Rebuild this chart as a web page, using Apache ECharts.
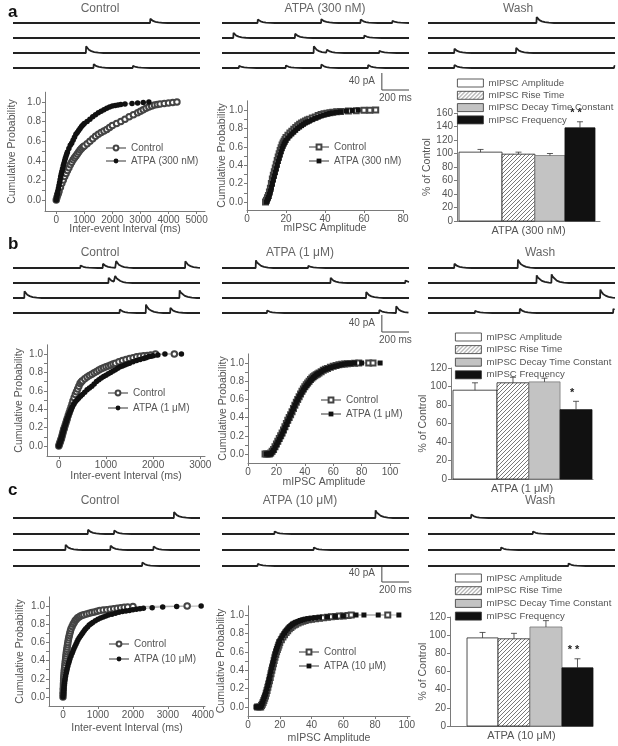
<!DOCTYPE html>
<html><head><meta charset="utf-8">
<script src="https://cdn.jsdelivr.net/npm/echarts@6/dist/echarts.min.js"></script>
<style>
html,body{margin:0;padding:0;background:#fff;}
#wrap{position:relative;width:618px;height:746px;overflow:hidden;}
.layer{position:absolute;left:0;top:0;width:618px;height:746px;}
</style></head><body><div id="wrap"></div>
<script>
// ================= DATA =================
const panelLetters = ['a', 'b', 'c'];
const titlesA = ['Control', 'ATPA (300 nM)', 'Wash'];
const titlesB = ['Control', 'ATPA (1 μM)', 'Wash'];
const titlesC = ['Control', 'ATPA (10 μM)', 'Wash'];
const sweepMs = 1378;
const scaleBarMs = 200;
const scaleBarPA = 40;

// trace events: [time ms, amplitude pA]; columns Control / ATPA / Wash, 4 sweeps each
const traceEventsA = [
  [[[1010, 10]], [], [[537, 16]], [[593, 9], [882, 5]]],
  [[[262, 8], [730, 9], [1020, 8], [1254, 5]], [[83, 12], [537, 10], [1047, 6]], [[675, 16], [772, 7], [1158, 5]], [[124, 5], [469, 6], [730, 8], [1075, 7]]],
  [[[799, 14]], [], [[193, 10], [648, 12]], [[193, 7], [1371, 5]]]
];
const traceEventsB = [
  [[[496, 6], [661, 10], [758, 16], [1268, 16]], [[703, 12], [751, 14]], [[83, 16], [1226, 18]], [[785, 8], [978, 20], [1158, 12]]],
  [[[248, 18], [634, 5]], [[799, 12], [1350, 6]], [[1061, 14]], [[331, 6], [1158, 7], [1282, 16]]],
  [[[193, 10], [661, 20]], [[799, 18], [909, 20]], [[1268, 20]], [[345, 5], [675, 10], [1364, 10]]]
];
const traceEventsC = [
  [[[1185, 14]], [[551, 10], [744, 8]], [[386, 12], [717, 10], [1034, 8]], [[951, 8]]],
  [[[1130, 18]], [[386, 6]], [[675, 6]], [[262, 5]]],
  [[[317, 8]], [[772, 6]], [[537, 6]], [[1034, 6]]]
];

// cumulative distributions [value, probability]
const ieiCtrlA = [[0,0],[25,0.025],[50,0.05],[75,0.07],[100,0.09],[150,0.13],[200,0.17],[250,0.205],[300,0.24],[350,0.27],[400,0.3],[450,0.33],[500,0.36],[550,0.385],[600,0.41],[650,0.43],[700,0.45],[750,0.47],[800,0.49],[850,0.51],[900,0.525],[950,0.54],[1000,0.55],[1100,0.575],[1200,0.6],[1300,0.625],[1400,0.65],[1500,0.67],[1600,0.69],[1700,0.705],[1800,0.72],[1900,0.74],[2000,0.76],[2150,0.78],[2300,0.8],[2450,0.825],[2600,0.85],[2750,0.87],[2900,0.89],[3000,0.905],[3100,0.92],[3200,0.935],[3300,0.95],[3400,0.96],[3500,0.97],[3600,0.975],[3700,0.98],[3850,0.985],[4000,0.99],[4150,0.995],[4300,1.0]];
const ieiAtpaA = [[0,0],[20,0.03],[40,0.06],[60,0.09],[80,0.12],[100,0.15],[120,0.18],[140,0.21],[160,0.24],[180,0.265],[200,0.29],[225,0.32],[250,0.35],[275,0.375],[300,0.4],[325,0.425],[350,0.45],[375,0.47],[400,0.49],[450,0.525],[500,0.56],[550,0.58],[600,0.61],[650,0.64],[700,0.67],[750,0.69],[800,0.71],[850,0.73],[900,0.75],[950,0.765],[1000,0.78],[1100,0.8],[1200,0.825],[1300,0.85],[1400,0.87],[1500,0.89],[1600,0.905],[1700,0.92],[1800,0.935],[1900,0.95],[2000,0.96],[2100,0.965],[2200,0.97],[2300,0.975],[2450,0.98],[2700,0.985],[2900,0.99],[3100,0.995],[3300,1.0]];
const ampCtrlA = [[9.5,0],[10,0.02],[10.5,0.045],[11,0.07],[11.5,0.11],[12,0.15],[12.5,0.2],[13,0.25],[13.5,0.29],[14,0.33],[14.5,0.37],[15,0.41],[15.5,0.45],[16,0.49],[16.5,0.525],[17,0.56],[17.5,0.59],[18,0.62],[18.5,0.64],[19,0.66],[19.5,0.68],[20,0.7],[21,0.725],[22,0.75],[23,0.77],[24,0.79],[25,0.81],[26,0.83],[27,0.845],[28,0.86],[29,0.87],[30,0.88],[31,0.89],[32,0.9],[33.5,0.913],[35,0.925],[36.5,0.94],[38,0.95],[39.5,0.958],[41,0.965],[42.5,0.97],[44,0.975],[46,0.98],[48,0.985],[52,0.99],[56,0.993],[60,0.996],[63,0.998],[66,1.0]];
const ampAtpaA = [[10,0],[10.5,0.025],[11,0.05],[11.5,0.085],[12,0.12],[12.5,0.16],[13,0.2],[13.5,0.24],[14,0.28],[14.5,0.32],[15,0.36],[15.5,0.4],[16,0.44],[16.5,0.475],[17,0.51],[17.5,0.545],[18,0.58],[18.5,0.605],[19,0.63],[19.5,0.65],[20,0.67],[21,0.695],[22,0.72],[23,0.74],[24,0.76],[25,0.78],[26,0.8],[27,0.815],[28,0.83],[29,0.845],[30,0.86],[31,0.87],[32,0.88],[33.5,0.895],[35,0.91],[36.5,0.922],[38,0.935],[39.5,0.945],[41,0.955],[42.5,0.963],[44,0.97],[46,0.975],[48,0.98],[51,0.99],[54,0.995],[57,1.0]];

const ieiCtrlB = [[0,0],[10,0.015],[20,0.03],[30,0.045],[40,0.06],[50,0.075],[60,0.09],[70,0.11],[80,0.13],[90,0.15],[100,0.17],[110,0.185],[120,0.2],[135,0.225],[150,0.25],[165,0.275],[180,0.3],[200,0.33],[220,0.36],[240,0.39],[260,0.42],[280,0.455],[300,0.49],[325,0.525],[350,0.56],[375,0.59],[400,0.62],[425,0.65],[450,0.68],[475,0.695],[500,0.71],[550,0.73],[600,0.75],[650,0.765],[700,0.78],[750,0.795],[800,0.81],[850,0.825],[900,0.84],[950,0.85],[1000,0.86],[1050,0.87],[1100,0.88],[1150,0.89],[1200,0.9],[1275,0.915],[1350,0.93],[1425,0.94],[1500,0.95],[1575,0.96],[1650,0.97],[1725,0.975],[1800,0.98],[1875,0.985],[1950,0.99],[2050,1.0],[2450,1.0]];
const ieiAtpaB = [[0,0],[10,0.015],[20,0.03],[30,0.045],[40,0.06],[50,0.075],[60,0.09],[70,0.11],[80,0.13],[90,0.15],[100,0.17],[110,0.185],[120,0.2],[135,0.225],[150,0.25],[165,0.275],[180,0.3],[200,0.325],[220,0.35],[240,0.375],[260,0.4],[280,0.42],[300,0.44],[325,0.46],[350,0.48],[385,0.5],[420,0.52],[460,0.54],[500,0.56],[550,0.585],[600,0.61],[650,0.63],[700,0.65],[750,0.675],[800,0.7],[850,0.72],[900,0.74],[950,0.755],[1000,0.77],[1050,0.785],[1100,0.8],[1150,0.815],[1200,0.83],[1250,0.845],[1300,0.86],[1350,0.87],[1400,0.88],[1450,0.89],[1500,0.9],[1575,0.915],[1650,0.93],[1725,0.94],[1800,0.95],[1850,0.96],[1900,0.97],[1950,0.975],[2000,0.98],[2100,0.99],[2250,1.0],[2600,1.0]];
const ampCtrlB = [[12,0],[13,0],[14,0],[15,0],[16,0.01],[17,0.03],[18,0.05],[19,0.08],[20,0.11],[21,0.14],[22,0.17],[23,0.2],[24,0.23],[25,0.265],[26,0.3],[27,0.335],[28,0.37],[29,0.4],[30,0.43],[31,0.465],[32,0.5],[33,0.535],[34,0.57],[35,0.6],[36,0.63],[37,0.66],[38,0.69],[39,0.715],[40,0.74],[41,0.76],[42,0.78],[43,0.8],[44,0.82],[45,0.835],[46,0.85],[47,0.86],[48,0.87],[49,0.88],[50,0.89],[51.5,0.905],[53,0.92],[54.5,0.93],[56,0.94],[58,0.953],[60,0.965],[62,0.973],[64,0.98],[66,0.985],[68,0.99],[70,0.993],[72,0.995],[75,0.998],[78,1.0],[85,1.0],[88,1.0]];
const ampAtpaB = [[13,0],[14,0],[15,0],[16,0],[17,0.02],[18,0.04],[19,0.07],[20,0.1],[21,0.13],[22,0.16],[23,0.19],[24,0.22],[25,0.255],[26,0.29],[27,0.325],[28,0.36],[29,0.395],[30,0.43],[31,0.465],[32,0.5],[33,0.535],[34,0.57],[35,0.6],[36,0.63],[37,0.655],[38,0.68],[39,0.705],[40,0.73],[41,0.75],[42,0.77],[43,0.79],[44,0.81],[45,0.825],[46,0.84],[47,0.855],[48,0.87],[49,0.88],[50,0.89],[51.5,0.905],[53,0.92],[54.5,0.93],[56,0.94],[58,0.95],[60,0.96],[62,0.968],[64,0.975],[66,0.983],[68,0.99],[70,0.993],[72,0.995],[75,1.0],[80,1.0],[93,1.0]];

const ieiCtrlC = [[0,0],[3,0.03],[5,0.05],[8,0.08],[10,0.1],[13,0.13],[15,0.15],[18,0.18],[20,0.2],[25,0.225],[30,0.25],[35,0.275],[40,0.3],[48,0.325],[55,0.35],[62,0.375],[70,0.4],[78,0.425],[85,0.45],[92,0.475],[100,0.5],[110,0.525],[120,0.55],[130,0.575],[140,0.6],[152,0.625],[165,0.65],[180,0.675],[195,0.7],[212,0.725],[230,0.75],[260,0.775],[290,0.8],[320,0.82],[350,0.84],[385,0.855],[420,0.87],[460,0.88],[500,0.89],[550,0.898],[600,0.905],[675,0.913],[750,0.92],[825,0.928],[900,0.935],[975,0.943],[1050,0.95],[1150,0.955],[1250,0.96],[1350,0.965],[1450,0.97],[1550,0.975],[1650,0.98],[1750,0.985],[1850,0.99],[2000,0.995],[3550,1.0]];
const ieiAtpaC = [[0,0],[5,0.025],[10,0.05],[18,0.075],[25,0.1],[32,0.125],[40,0.15],[50,0.175],[60,0.2],[75,0.23],[90,0.26],[105,0.285],[120,0.31],[140,0.34],[160,0.37],[180,0.395],[200,0.42],[230,0.45],[260,0.48],[285,0.505],[310,0.53],[340,0.555],[370,0.58],[400,0.605],[430,0.63],[465,0.65],[500,0.67],[535,0.69],[570,0.71],[610,0.73],[650,0.75],[700,0.77],[750,0.79],[800,0.805],[850,0.82],[925,0.838],[1000,0.855],[1075,0.868],[1150,0.88],[1225,0.89],[1300,0.9],[1400,0.91],[1500,0.92],[1600,0.93],[1700,0.94],[1800,0.945],[1900,0.95],[2000,0.958],[2100,0.965],[2200,0.97],[2300,0.975],[2550,0.98],[2850,0.99],[3250,0.995],[3950,1.0]];
const ampCtrlC = [[6,0],[7,0],[8,0],[8.5,0.015],[9,0.03],[9.5,0.05],[10,0.07],[10.5,0.095],[11,0.12],[11.5,0.15],[12,0.18],[12.5,0.215],[13,0.25],[13.5,0.285],[14,0.32],[14.5,0.36],[15,0.4],[15.5,0.435],[16,0.47],[16.5,0.505],[17,0.54],[17.5,0.57],[18,0.6],[18.5,0.625],[19,0.65],[19.5,0.675],[20,0.7],[21,0.73],[22,0.76],[23,0.785],[24,0.81],[25,0.83],[26,0.85],[27,0.865],[28,0.88],[29,0.89],[30,0.9],[31.5,0.913],[33,0.925],[34.5,0.933],[36,0.94],[38,0.948],[40,0.955],[42.5,0.96],[45,0.965],[47.5,0.97],[50,0.975],[52.5,0.98],[55,0.985],[57.5,0.988],[60,0.99],[63,0.995],[65,1.0],[88,1.0]];
const ampAtpaC = [[5,0],[6,0],[7,0],[8,0],[8.5,0.02],[9,0.04],[9.5,0.065],[10,0.09],[10.5,0.115],[11,0.14],[11.5,0.17],[12,0.2],[12.5,0.235],[13,0.27],[13.5,0.31],[14,0.35],[14.5,0.39],[15,0.43],[15.5,0.465],[16,0.5],[16.5,0.535],[17,0.57],[17.5,0.6],[18,0.63],[18.5,0.655],[19,0.68],[19.5,0.7],[20,0.72],[21,0.75],[22,0.78],[23,0.805],[24,0.83],[25,0.85],[26,0.87],[27,0.885],[28,0.9],[29,0.91],[30,0.92],[31.5,0.93],[33,0.94],[34.5,0.948],[36,0.955],[38,0.96],[40,0.965],[42.5,0.97],[45,0.975],[50,0.98],[55,0.985],[60,0.99],[68,1.0],[73,1.0],[82,1.0],[95,1.0]];

// tick labels
const probTicks = [0, 0.2, 0.4, 0.6, 0.8, 1.0];
const probMinorTicks = [0, 0.1, 0.2, 0.3, 0.4, 0.5, 0.6, 0.7, 0.8, 0.9, 1.0];
const ieiTicksA = [0, 1000, 2000, 3000, 4000, 5000];
const ieiTicksB = [0, 1000, 2000, 3000];
const ieiTicksC = [0, 1000, 2000, 3000, 4000];
const ampTicksA = [0, 20, 40, 60, 80];
const ampTicksB = [0, 20, 40, 60, 80, 100];
const ampTicksC = [0, 20, 40, 60, 80, 100];
const ieiAxisName = 'Inter-event Interval (ms)';
const ampAxisName = 'mIPSC Amplitude';
const probAxisName = 'Cumulative Probability';

// summary bars (% of control)
const barMeasures = ['mIPSC Amplitude', 'mIPSC Rise Time', 'mIPSC Decay Time Constant', 'mIPSC Frequency'];
const barGroupA = 'ATPA (300 nM)';
const barValuesA = [102, 99, 97, 138];
const barErrorsA = [4, 3, 3, 9];
const barSigA = ['', '', '', '* *'];
const barGroupB = 'ATPA (1 μM)';
const barValuesB = [96, 104, 105, 75];
const barErrorsB = [8, 6, 4, 9];
const barSigB = ['', '', '', '*'];
const barGroupC = 'ATPA (10 μM)';
const barValuesC = [97, 96, 109, 64];
const barErrorsC = [6, 6, 7, 10];
const barSigC = ['', '', '', '* *'];
const barAxisName = '% of Control';

// ================= STYLE / LAYOUT =================
const FONT = '"Liberation Sans", Arial, Helvetica, sans-serif';
const AX = '#7a7a7a', TX = '#555';
const PX_PER_PA = 0.425;

const wrap = document.getElementById('wrap');
function makeChart(option) {
  const d = document.createElement('div');
  d.className = 'layer';
  wrap.appendChild(d);
  const c = echarts.init(d, null, { renderer: 'canvas', width: 618, height: 746 });
  c.setOption(Object.assign({ animation: false, backgroundColor: 'transparent' }, option));
  return c;
}

// ---------- traces ----------
const KERNEL = [[0, 0], [2, 1], [10, 0.72], [22, 0.48], [40, 0.28], [62, 0.14], [92, 0.05], [130, 0]];
const KEND = KERNEL[KERNEL.length - 1][0];
function kernelAt(dt) {
  if (dt <= 0 || dt >= KEND) return 0;
  for (let k = 1; k < KERNEL.length; k++) {
    if (dt <= KERNEL[k][0]) {
      const [t0, v0] = KERNEL[k - 1], [t1, v1] = KERNEL[k];
      return v0 + (v1 - v0) * (dt - t0) / (t1 - t0);
    }
  }
  return 0;
}
function buildTrace(events, offset) {
  const ts = new Set([0, sweepMs]);
  events.forEach(([t]) => KERNEL.forEach(([dt]) => { const x = t + dt; if (x >= 0 && x <= sweepMs) ts.add(x); }));
  return [...ts].sort((a, b) => a - b).map(t => [t, offset + events.reduce((s, [t0, a]) => s + a * kernelAt(t - t0), 0)]);
}

const TRACE_LAYOUT = [
  { letter: [8, 12], titleY: 9, titleX: [100, 325, 518], cols: [13, 222, 428], width: 187, rows: [23, 38, 53, 68], scaleBottom: 90 },
  { letter: [8, 244], titleY: 253, titleX: [100, 300, 540], cols: [13, 222, 428], width: 187, rows: [268, 283, 298, 313], scaleBottom: 332 },
  { letter: [8, 490], titleY: 501, titleX: [100, 300, 540], cols: [13, 222, 428], width: 187, rows: [518, 534, 550, 566], scaleBottom: 582 }
];

function traceRow(r, titles, events) {
  const L = TRACE_LAYOUT[r];
  const grids = [], xAxes = [], yAxes = [], series = [];
  const top = L.rows[0] - 10, h = 85, yMax = 10 / PX_PER_PA, yMin = yMax - h / PX_PER_PA;
  L.cols.forEach((left, c) => {
    grids.push({ left, top, width: L.width, height: h });
    xAxes.push({ type: 'value', gridIndex: c, min: 0, max: sweepMs, show: false });
    yAxes.push({ type: 'value', gridIndex: c, min: yMin, max: yMax, show: false });
    events[c].forEach((ev, i) => {
      const off = -(L.rows[i] - L.rows[0]) / PX_PER_PA;
      series.push({ type: 'line', xAxisIndex: c, yAxisIndex: c, data: buildTrace(ev, off), showSymbol: false, silent: true,
        lineStyle: { color: '#222', width: 1.8 } });
    });
  });
  const yb = -(L.scaleBottom - L.rows[0]) / PX_PER_PA;
  series.push({
    type: 'custom', xAxisIndex: 1, yAxisIndex: 1, silent: true, data: [[scaleBarMs, scaleBarPA]],
    renderItem(params, api) {
      const ms = api.value(0), pa = api.value(1);
      const p0 = api.coord([sweepMs - ms, yb]), p1 = api.coord([sweepMs, yb]), p2 = api.coord([sweepMs - ms, yb + pa]);
      return { type: 'group', children: [
        { type: 'polyline', shape: { points: [p2, p0, p1] }, style: { stroke: '#444', lineWidth: 1, fill: null } },
        { type: 'text', style: { text: pa + ' pA', x: p0[0] - 7, y: (p0[1] + p2[1]) / 2, align: 'right', verticalAlign: 'middle', font: '10px ' + FONT, fill: TX } },
        { type: 'text', style: { text: ms + ' ms', x: (p0[0] + p1[0]) / 2, y: p0[1] + 3, align: 'center', verticalAlign: 'top', font: '10px ' + FONT, fill: TX } }
      ] };
    }
  });
  const graphic = [{ type: 'text', x: L.letter[0], y: L.letter[1], style: { text: panelLetters[r], font: 'bold 17px ' + FONT, fill: '#111', verticalAlign: 'middle' } }];
  titles.forEach((t, c) => graphic.push({ type: 'text', x: L.titleX[c], y: L.titleY, style: { text: t, font: '12px ' + FONT, fill: '#666', align: 'center', verticalAlign: 'middle' } }));
  makeChart({ grid: grids, xAxis: xAxes, yAxis: yAxes, series, graphic });
}
traceRow(0, titlesA, traceEventsA);
traceRow(1, titlesB, traceEventsB);
traceRow(2, titlesC, traceEventsC);

// ---------- cumulative plots ----------
function axisCommon() {
  return {
    axisLine: { show: true, onZero: false, lineStyle: { color: AX, width: 1 } },
    splitLine: { show: false },
    nameLocation: 'middle',
    nameTextStyle: { color: TX, fontSize: 10.5, fontFamily: FONT },
    nameMoveOverlap: false
  };
}
function cumPlot(cfg) {
  const xa = Object.assign(axisCommon(), {
    type: 'value', min: cfg.x[0], max: cfg.x[1], name: cfg.xName, nameGap: cfg.xGap,
    axisTick: { show: true, inside: false, length: 3, customValues: cfg.xTicks, lineStyle: { color: AX } },
    axisLabel: { customValues: cfg.xTicks, color: TX, fontSize: 10, fontFamily: FONT, margin: 4, formatter: v => String(v) }
  });
  const ya = Object.assign(axisCommon(), {
    type: 'value', min: cfg.y[0], max: cfg.y[1], name: probAxisName, nameGap: cfg.yGap,
    axisTick: { show: true, inside: false, length: 3, customValues: probMinorTicks, lineStyle: { color: AX } },
    axisLabel: { customValues: probTicks, color: TX, fontSize: 10, fontFamily: FONT, margin: 4, formatter: v => v.toFixed(1) }
  });
  const open = cfg.square ? 'emptyRect' : 'emptyCircle', filled = cfg.square ? 'rect' : 'circle';
  const sz = cfg.square ? 5 : 5.5;
  makeChart({
    grid: { left: cfg.g[0], top: cfg.g[1], width: cfg.g[2], height: cfg.g[3] },
    xAxis: xa, yAxis: ya,
    legend: { orient: 'vertical', left: cfg.leg[0], top: cfg.leg[1], itemGap: cfg.leg[2], itemWidth: 20, itemHeight: 6, padding: 0,
      textStyle: { color: TX, fontSize: 10, fontFamily: FONT }, data: cfg.names },
    series: [
      { type: 'line', name: cfg.names[0], data: cfg.ctrl, symbol: open, symbolSize: sz, showAllSymbol: true, silent: true,
        lineStyle: { color: '#9a9a9a', width: 0.8 }, itemStyle: { color: '#444', borderColor: '#444', borderWidth: 0.9 } },
      { type: 'line', name: cfg.names[1], data: cfg.atpa, symbol: filled, symbolSize: sz, showAllSymbol: true, silent: true,
        lineStyle: { color: '#9a9a9a', width: 0.8 }, itemStyle: { color: '#111' } }
    ]
  });
}
cumPlot({ g: [45, 92.2, 160, 118.8], x: [-400, 5300], y: [-0.112, 1.1], xTicks: ieiTicksA, xName: ieiAxisName, xGap: 13, yGap: 27,
  leg: [105, 143, 3], names: ['Control', titlesA[1]], ctrl: ieiCtrlA, atpa: ieiAtpaA });
cumPlot({ g: [247, 100.8, 156, 109.2], x: [0, 80], y: [-0.087, 1.1], xTicks: ampTicksA, xName: ampAxisName, xGap: 13, yGap: 19, square: true,
  leg: [308, 142, 4], names: ['Control', titlesA[1]], ctrl: ampCtrlA, atpa: ampAtpaA });
cumPlot({ g: [47, 344.8, 158, 111.2], x: [-250, 3100], y: [-0.109, 1.1], xTicks: ieiTicksB, xName: ieiAxisName, xGap: 15, yGap: 22,
  leg: [107, 388, 5], names: ['Control', titlesB[1]], ctrl: ieiCtrlB, atpa: ieiAtpaB });
cumPlot({ g: [248, 353.9, 152, 109.1], x: [0, 107], y: [-0.099, 1.1], xTicks: ampTicksB, xName: ampAxisName, xGap: 14, yGap: 19, square: true,
  leg: [320, 395, 4], names: ['Control', titlesB[1]], ctrl: ampCtrlB, atpa: ampAtpaB });
cumPlot({ g: [49, 596.9, 156, 109.1], x: [-400, 4060], y: [-0.099, 1.1], xTicks: ieiTicksC, xName: ieiAxisName, xGap: 17, yGap: 23,
  leg: [108, 639, 5], names: ['Control', titlesC[1]], ctrl: ieiCtrlC, atpa: ieiAtpaC });
cumPlot({ g: [248, 605.8, 162, 110.2], x: [0, 102], y: [-0.098, 1.1], xTicks: ampTicksC, xName: ampAxisName, xGap: 17, yGap: 21, square: true,
  leg: [298, 647, 4], names: ['Control', titlesC[1]], ctrl: ampCtrlC, atpa: ampAtpaC });

// ---------- bar charts ----------
function hatchPattern() {
  const cv = document.createElement('canvas');
  cv.width = 4; cv.height = 4;
  const ctx = cv.getContext('2d');
  ctx.fillStyle = '#fff'; ctx.fillRect(0, 0, 4, 4);
  ctx.strokeStyle = '#555'; ctx.lineWidth = 0.8;
  ctx.beginPath();
  ctx.moveTo(0, 4); ctx.lineTo(4, 0);
  ctx.moveTo(-1, 1); ctx.lineTo(1, -1);
  ctx.moveTo(3, 5); ctx.lineTo(5, 3);
  ctx.stroke();
  return { image: cv, repeat: 'repeat' };
}
const BAR_FILLS = ['#ffffff', hatchPattern(), '#c3c3c3', '#111111'];
const BAR_STROKES = ['#222', '#222', '#777', '#111'];

function barPlot(cfg, group, values, errors, sig) {
  const series = barMeasures.map((m, i) => ({
    type: 'custom', name: m, silent: true,
    itemStyle: { color: BAR_FILLS[i], borderColor: BAR_STROKES[i], borderWidth: 0.8 },
    data: [[0, values[i], errors[i], i]],
    renderItem(params, api) {
      const v = api.value(1), e = api.value(2), idx = api.value(3);
      const base = api.coord([0, 0]), top = api.coord([0, v]), et = api.coord([0, v + e]);
      const band = api.size([1, 0])[0];
      const l0 = base[0] - band / 2;
      const x0 = l0 + cfg.edges[idx] * band, x1 = l0 + cfg.edges[idx + 1] * band, xc = (x0 + x1) / 2;
      const ch = [
        { type: 'rect', shape: { x: x0, y: top[1], width: x1 - x0, height: base[1] - top[1] },
          style: { fill: BAR_FILLS[idx], stroke: BAR_STROKES[idx], lineWidth: 0.8 } },
        { type: 'line', shape: { x1: xc, y1: top[1], x2: xc, y2: et[1] }, style: { stroke: '#333', lineWidth: 0.8 } },
        { type: 'line', shape: { x1: xc - 3, y1: et[1], x2: xc + 3, y2: et[1] }, style: { stroke: '#333', lineWidth: 0.8 } }
      ];
      if (sig[idx]) ch.push({ type: 'text', style: { text: sig[idx], x: xc - 4, y: et[1] - 3, align: 'center', verticalAlign: 'bottom', font: 'bold 11px ' + FONT, fill: '#222' } });
      return { type: 'group', children: ch };
    }
  }));
  makeChart({
    grid: { left: cfg.g[0], top: cfg.g[1], width: cfg.g[2], height: cfg.g[3] },
    xAxis: { type: 'category', data: [group], axisLine: { show: true, lineStyle: { color: AX } }, axisTick: { show: false },
      axisLabel: { color: TX, fontSize: 11, fontFamily: FONT, margin: 4 } },
    yAxis: Object.assign(axisCommon(), { type: 'value', min: 0, max: cfg.max, interval: 20, name: barAxisName, nameGap: cfg.yGap,
      axisTick: { show: true, inside: false, length: 3, lineStyle: { color: AX } },
      axisLabel: { color: TX, fontSize: 10, fontFamily: FONT, margin: 4 } }),
    legend: { orient: 'vertical', left: cfg.leg[0], top: cfg.leg[1], itemGap: cfg.leg[2], itemWidth: 26, itemHeight: 8, icon: 'rect', padding: 0,
      itemStyle: { borderColor: '#333', borderWidth: 0.8 },
      textStyle: { color: TX, fontSize: 9.6, fontFamily: FONT }, data: barMeasures },
    series
  });
}
barPlot({ g: [457, 113, 143, 108], max: 160, yGap: 24, leg: [457, 78, 2.3], edges: [0.014, 0.315, 0.545, 0.755, 0.965] }, barGroupA, barValuesA, barErrorsA, barSigA);
barPlot({ g: [451, 368, 142, 111], max: 120, yGap: 22, leg: [455, 332, 2.6], edges: [0.014, 0.324, 0.549, 0.768, 0.993] }, barGroupB, barValuesB, barErrorsB, barSigB);
barPlot({ g: [450, 617, 143, 109], max: 120, yGap: 21, leg: [455, 573, 2.7], edges: [0.119, 0.336, 0.559, 0.783, 1.0] }, barGroupC, barValuesC, barErrorsC, barSigC);
</script></body></html>
